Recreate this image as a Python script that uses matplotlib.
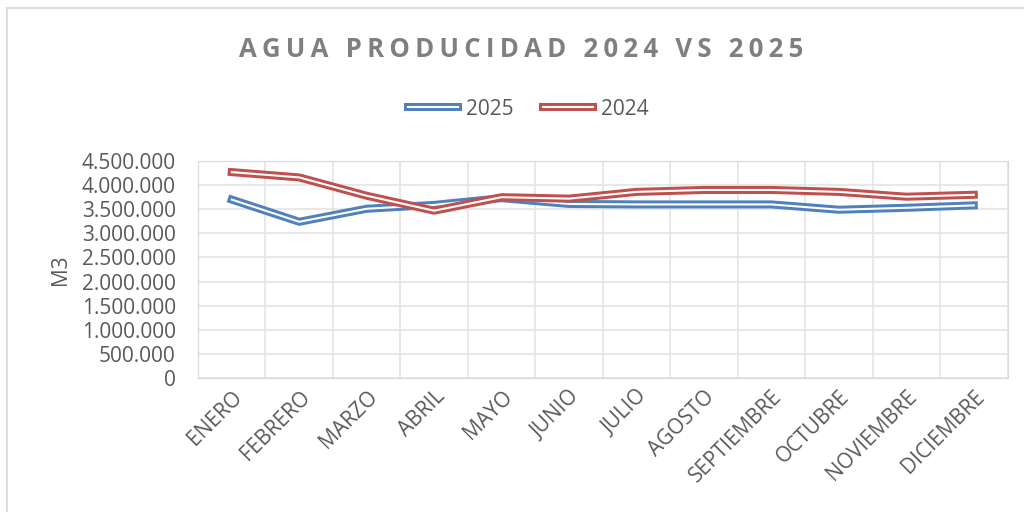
import matplotlib
matplotlib.use("Agg")
import matplotlib.pyplot as plt
import matplotlib.patheffects as pe
from matplotlib.lines import Line2D
from matplotlib.ticker import FuncFormatter, MultipleLocator

# ========== datos ==========
MESES = ["ENERO", "FEBRERO", "MARZO", "ABRIL", "MAYO", "JUNIO", "JULIO",
         "AGOSTO", "SEPTIEMBRE", "OCTUBRE", "NOVIEMBRE", "DICIEMBRE"]
AGUA_2025 = [3700000, 3240000, 3510000, 3590000, 3730000, 3610000, 3600000,
             3600000, 3600000, 3490000, 3530000, 3580000]
AGUA_2024 = [4270000, 4160000, 3780000, 3470000, 3750000, 3720000, 3860000,
             3900000, 3900000, 3860000, 3760000, 3800000]

TITULO = "AGUA PRODUCIDAD 2024 VS 2025"
AZUL = "#4f81bd"
ROJO = "#c0504d"
GRIS_TXT = "#595959"
GRIS_GRID = "#e4e4e4"

plt.rcParams["font.family"] = ["Open Sans", "DejaVu Sans"]


def miles(v, _):
    return f"{int(v):,}".replace(",", ".")


def doble(color):
    # linea doble estilo Excel: trazo grueso de color con un hilo blanco encima
    return [pe.Stroke(linewidth=5.8, foreground=color), pe.Normal()]


fig = plt.figure(figsize=(10.24, 5.12), dpi=100)
ax = fig.add_axes([0.1934, 0.2617, 0.7905, 0.4238])

x = range(len(MESES))
ax.plot(x, AGUA_2025, color="white", lw=1.5, label="2025",
        path_effects=doble(AZUL), solid_joinstyle="round", zorder=3)
ax.plot(x, AGUA_2024, color="white", lw=1.5, label="2024",
        path_effects=doble(ROJO), solid_joinstyle="round", zorder=3)

ax.set_xlim(-0.5, len(MESES) - 0.5)
ax.set_ylim(0, 4500000)
ax.yaxis.set_major_locator(MultipleLocator(500000))
ax.yaxis.set_major_formatter(FuncFormatter(miles))
ax.set_xticks(list(x))
ax.set_xticklabels(MESES, rotation=45, ha="right", rotation_mode="anchor")
ax.set_xticks([i - 0.5 for i in range(len(MESES) + 1)], minor=True)

ax.grid(axis="y", which="major", color=GRIS_GRID, lw=1.2)
ax.grid(axis="x", which="minor", color=GRIS_GRID, lw=1.2)
ax.set_axisbelow(True)
for s in ax.spines.values():
    s.set_color("#d9d9d9")
ax.tick_params(axis="both", which="both", length=0, labelsize=15,
               labelcolor=GRIS_TXT)
ax.tick_params(axis="x", pad=6)
ax.tick_params(axis="y", pad=16)

ax.set_ylabel("M3", fontsize=15, color=GRIS_TXT, labelpad=8)

fig.text(0.509, 0.904, "\u200a\u200a".join(TITULO), ha="center", va="center",
         fontsize=18.5, fontweight="bold", color="#7f7f7f")

leg = fig.legend(loc="center", bbox_to_anchor=(0.516, 0.787), ncol=2,
                 frameon=False, fontsize=15, handlelength=2.4,
                 columnspacing=1.4, handletextpad=0.4)
for t in leg.get_texts():
    t.set_color(GRIS_TXT)

# borde del grafico (solo izquierda y arriba visibles)
fig.add_artist(Line2D([0.0073, 0.0073], [0.0, 0.984], color="#d9d9d9", lw=1.3,
                      transform=fig.transFigure))
fig.add_artist(Line2D([0.0073, 1.0], [0.984, 0.984], color="#d9d9d9", lw=1.3,
                      transform=fig.transFigure))

fig.savefig("out.png", dpi=100, facecolor="white")
